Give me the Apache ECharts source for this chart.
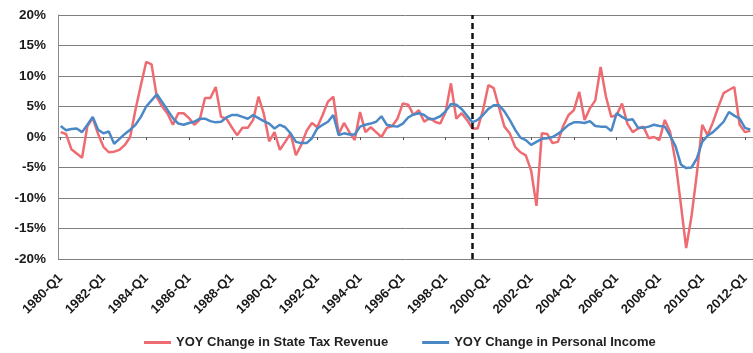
<!DOCTYPE html>
<html>
<head>
<meta charset="utf-8">
<script src="https://cdn.jsdelivr.net/npm/echarts@6/dist/echarts.min.js"></script>
<style>
  html, body { margin: 0; padding: 0; background: #fff; }
  #chart { width: 753px; height: 353px; }
</style>
</head>
<body>
<div id="chart"></div>
<script>
// Quarterly categories 1980-Q1 .. 2012-Q2
const startYear = 1980;
const quarterCount = 130;
const categories = [];
for (let i = 0; i < quarterCount; i++) {
  categories.push((startYear + Math.floor(i / 4)) + '-Q' + (i % 4 + 1));
}

const taxRevenueName = 'YOY Change in State Tax Revenue';
const personalIncomeName = 'YOY Change in Personal Income';

// YOY change in state tax revenue (%)
const taxRevenue = [
  0.8, 0.5, -2.0, -2.7, -3.4, 1.8, 3.1, 0.5, -1.6, -2.5,
  -2.4, -2.1, -1.3, 0.0, 4.5, 8.5, 12.3, 11.9, 6.5, 5.0,
  3.8, 2.0, 3.9, 3.9, 3.1, 2.0, 2.8, 6.4, 6.4, 8.2,
  3.3, 3.0, 1.6, 0.3, 1.5, 1.5, 2.8, 6.6, 3.8, -0.7,
  0.8, -2.1, -0.8, 0.6, -3.0, -1.3, 1.0, 2.3, 1.6, 3.6,
  5.8, 6.6, 0.5, 2.3, 0.8, -0.5, 4.1, 0.8, 1.6, 0.8,
  0.0, 1.5, 1.8, 3.0, 5.5, 5.3, 3.6, 4.4, 2.5, 3.1,
  2.5, 2.2, 4.1, 8.8, 3.0, 3.9, 2.8, 1.4, 1.4, 4.4,
  8.5, 8.0, 4.8, 1.7, 0.6, -1.6, -2.5, -3.0, -5.5, -11.3,
  0.6, 0.5, -1.0, -0.8, 1.8, 3.6, 4.4, 7.4, 2.8, 4.7,
  6.0, 11.5, 6.6, 3.3, 3.6, 5.5, 2.2, 0.8, 1.4, 1.7,
  -0.2, 0.0, -0.5, 2.8, 0.8, -4.0, -11.0, -18.2, -13.0, -6.0,
  2.0, 0.3, 2.4, 4.9, 7.2, 7.7, 8.2, 2.0, 0.8, 1.0
];

// YOY change in personal income (%)
const personalIncome = [
  1.8, 1.1, 1.3, 1.4, 0.8, 2.0, 3.3, 1.2, 0.6, 0.9,
  -1.1, -0.3, 0.5, 1.2, 2.0, 3.3, 5.0, 6.0, 7.0, 5.7,
  4.4, 3.1, 2.2, 2.0, 2.3, 2.5, 3.0, 3.0, 2.6, 2.4,
  2.5, 3.2, 3.6, 3.6, 3.3, 3.0, 3.6, 3.1, 2.6, 2.2,
  1.4, 2.0, 1.6, 0.6, -0.8, -1.0, -1.0, -0.2, 1.4, 2.0,
  2.5, 3.6, 0.3, 0.6, 0.4, 0.4, 1.7, 2.0, 2.2, 2.5,
  3.4, 2.0, 1.8, 1.7, 2.2, 3.2, 3.7, 3.9, 3.6, 2.9,
  3.0, 3.4, 4.2, 5.4, 5.3, 4.6, 3.5, 2.4, 2.8, 3.6,
  4.6, 5.2, 5.2, 4.2, 2.8, 1.2, -0.1, -0.5, -1.3, -0.8,
  -0.3, -0.2, 0.0, 0.5, 1.2, 2.0, 2.4, 2.4, 2.3, 2.6,
  1.8, 1.7, 1.7, 1.0, 3.9, 3.3, 2.8, 2.9, 1.5, 1.5,
  1.7, 2.0, 1.8, 1.7, 0.2, -1.5, -4.5, -5.1, -5.0, -3.5,
  -0.8, 0.2, 0.8, 1.6, 2.5, 4.1, 3.5, 3.0, 1.5, 1.2
];

// Y axis ticks
const yMin = -20;
const yMax = 20;
const yStep = 5;

// Vertical dashed divider
const dividerCategory = '1999-Q2';

const chart = echarts.init(document.getElementById('chart'), null, { renderer: 'canvas' });

const labelFont = 'Liberation Sans, Arial, sans-serif';

chart.setOption({
  animation: false,
  backgroundColor: '#ffffff',
  grid: { left: 58, right: 0, top: 15, bottom: 94, containLabel: false },
  legend: {
    left: 139,
    top: 331,
    itemWidth: 27,
    itemHeight: 3,
    itemGap: 34,
    icon: 'rect',
    textStyle: { fontFamily: labelFont, fontSize: 13, fontWeight: 'bold', color: '#222' },
    data: [taxRevenueName, personalIncomeName]
  },
  xAxis: [
    {
      type: 'category',
      data: categories,
      boundaryGap: true,
      axisLine: { onZero: false, show: false },
      axisTick: { show: false },
      axisLabel: {
        interval: 7,
        rotate: 45,
        margin: 17,
        fontFamily: labelFont,
        fontSize: 13,
        fontWeight: 'bold',
        color: '#1a1a1a'
      },
      splitLine: { show: false }
    },
    {
      type: 'category',
      data: categories,
      position: 'bottom',
      boundaryGap: true,
      axisLine: { show: true, onZero: true, lineStyle: { color: '#8a8a8a', width: 1 } },
      axisTick: { show: true, interval: 7, alignWithLabel: true, length: 3, lineStyle: { color: '#555' } },
      axisLabel: { show: false },
      splitLine: { show: false }
    }
  ],
  yAxis: {
    type: 'value',
    min: yMin,
    max: yMax,
    interval: yStep,
    axisLine: { show: true, lineStyle: { color: '#8a8a8a', width: 1 } },
    axisTick: { show: false },
    axisLabel: {
      formatter: '{value}%',
      margin: 12,
      fontFamily: labelFont,
      fontSize: 13.5,
      fontWeight: 'bold',
      color: '#1a1a1a'
    },
    splitLine: { show: true, lineStyle: { color: '#7d7d7d', width: 1 } }
  },
  series: [
    {
      name: taxRevenueName,
      type: 'line',
      data: taxRevenue,
      symbol: 'none',
      smooth: false,
      lineStyle: { color: '#ee6b72', width: 2.5 },
      itemStyle: { color: '#ee6b72' },
      markLine: {
        silent: true,
        symbol: ['none', 'none'],
        label: { show: false },
        lineStyle: { color: '#111', type: [6, 4], width: 2.5 },
        data: [{ xAxis: dividerCategory }]
      },
      z: 2
    },
    {
      name: personalIncomeName,
      type: 'line',
      data: personalIncome,
      symbol: 'none',
      smooth: false,
      lineStyle: { color: '#4a88c6', width: 2.5 },
      itemStyle: { color: '#4a88c6' },
      z: 3
    }
  ]
});
</script>
</body>
</html>
